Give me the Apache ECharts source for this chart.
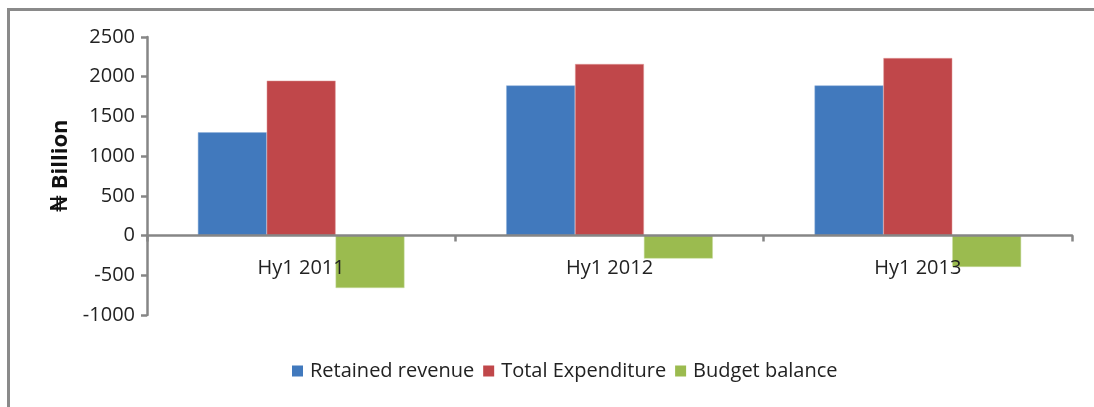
<!DOCTYPE html>
<html>
<head>
<meta charset="utf-8">
<script src="https://cdn.jsdelivr.net/npm/echarts@6/dist/echarts.min.js"></script>
<style>
  html, body { margin: 0; padding: 0; background: #fff; }
  #frame { position: absolute; left: 7px; top: 8px; width: 1200px; height: 500px;
           border-left: 3px solid #8a8a8a; border-top: 3px solid #8a8a8a; }
  #chart { position: absolute; left: 0; top: 0; width: 1094px; height: 407px; }
</style>
</head>
<body>
<div id="frame"></div>
<div id="chart"></div>
<script>
const categories = ['Hy1 2011', 'Hy1 2012', 'Hy1 2013']
const retainedRevenue = [1300, 1890, 1890]
const totalExpenditure = [1950, 2160, 2235]
const budgetBalance = [-660, -290, -395]
const yTicks = { min: -1000, max: 2500, interval: 500 }

const font = '"Open Sans", Lato, sans-serif'
const axisGray = '#868686'

const chart = echarts.init(document.getElementById('chart'))
chart.setOption({
  animation: false,
  grid: { left: 147, right: 22, top: 37, bottom: 92 },
  legend: {
    top: 356,
    left: 287,
    itemWidth: 11,
    itemHeight: 11,
    itemGap: 9,
    icon: 'rect',
    itemStyle: { borderWidth: 0 },
    textStyle: { fontFamily: font, fontSize: 20, color: '#222', padding: [0, 0, 0, 2] },
  },
  xAxis: {
    type: 'category',
    data: categories,
    axisLine: { onZero: true, lineStyle: { color: axisGray, width: 2.5 } },
    axisTick: { show: true, length: 6, inside: false, lineStyle: { color: axisGray, width: 2.5 } },
    // labels sit just under the zero line, over the negative bars
    axisLabel: { margin: -57, fontFamily: font, fontSize: 20, color: '#222' },
    z: 10,
  },
  yAxis: {
    type: 'value',
    min: yTicks.min,
    max: yTicks.max,
    interval: yTicks.interval,
    name: '₦ Billion',
    nameLocation: 'middle',
    nameGap: 75,
    nameRotate: 90,
    nameTextStyle: { fontFamily: font, fontSize: 22, fontWeight: 'bold', color: '#111', padding: [0, 0, 0, 20] },
    axisLine: { show: true, lineStyle: { color: axisGray, width: 2.5 } },
    axisTick: { show: true, length: 6, lineStyle: { color: axisGray, width: 2.5 } },
    axisLabel: { margin: 12, fontFamily: font, fontSize: 20, color: '#222', formatter: (v) => String(v) },
    splitLine: { show: false },
  },
  series: [
    {
      name: 'Retained revenue',
      type: 'bar',
      data: retainedRevenue,
      barGap: '0%',
      barCategoryGap: '33%',
      itemStyle: { color: '#4179bd', borderColor: '#8fb0da', borderWidth: 0.5 },
    },
    {
      name: 'Total Expenditure',
      type: 'bar',
      data: totalExpenditure,
      barGap: '0%',
      barCategoryGap: '33%',
      itemStyle: { color: '#c0474a', borderColor: '#e09b9a', borderWidth: 0.5 },
    },
    {
      name: 'Budget balance',
      type: 'bar',
      data: budgetBalance,
      barGap: '0%',
      barCategoryGap: '33%',
      itemStyle: { color: '#9bbb4f', borderColor: '#c8dca0', borderWidth: 0.5 },
    },
  ],
})
</script>
</body>
</html>
